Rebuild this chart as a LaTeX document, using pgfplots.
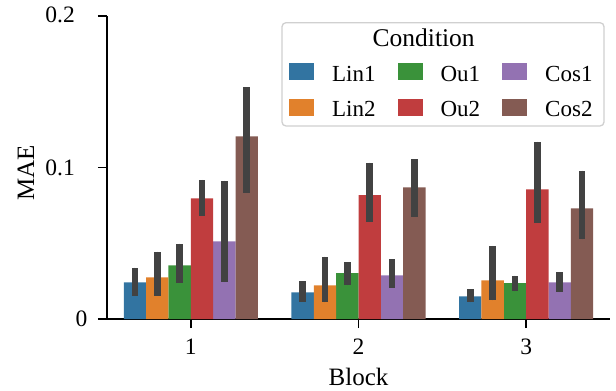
\documentclass[border=0pt]{standalone}
\usepackage{fontspec}
\setmainfont{Liberation Serif}
\usepackage{pgfplots}
\pgfplotsset{compat=1.18}
\usepackage{pgfplotstable}
\definecolor{cLinA}{HTML}{3274A1}
\definecolor{cLinB}{HTML}{E1812C}
\definecolor{cOuA}{HTML}{3A923A}
\definecolor{cOuB}{HTML}{C03D3E}
\definecolor{cCosA}{HTML}{9372B2}
\definecolor{cCosB}{HTML}{845B53}
\definecolor{errc}{HTML}{424242}
\definecolor{legc}{HTML}{D0D0D0}
% x  mean  err+  err-
\pgfplotstableread{
x y ep em
0 0.0242 0.0097 0.0090
1 0.0176 0.0073 0.0061
2 0.0150 0.0046 0.0040
}\tLinA
\pgfplotstableread{
x y ep em
0 0.0275 0.0170 0.0123
1 0.0222 0.0190 0.0112
2 0.0255 0.0227 0.0132
}\tLinB
\pgfplotstableread{
x y ep em
0 0.0354 0.0144 0.0116
1 0.0302 0.0072 0.0080
2 0.0236 0.0050 0.0053
}\tOuA
\pgfplotstableread{
x y ep em
0 0.0797 0.0121 0.0117
1 0.0817 0.0215 0.0177
2 0.0856 0.0315 0.0220
}\tOuB
\pgfplotstableread{
x y ep em
0 0.0513 0.0401 0.0269
1 0.0288 0.0106 0.0081
2 0.0242 0.0068 0.0064
}\tCosA
\pgfplotstableread{
x y ep em
0 0.1206 0.0324 0.0374
1 0.0869 0.0187 0.0193
2 0.0731 0.0249 0.0205
}\tCosB
\pgfplotsset{
  mybar/.style={ybar, bar width=0.13333, bar shift=0pt, draw=none, fill=#1,
    error bars/y dir=both, error bars/y explicit, error bars/error mark=none,
    error bars/error bar style={line width=6.5bp, color=errc}},
}
\tikzset{ylab/.style={anchor=base east, inner sep=0pt, font=\fontsize{23.5bp}{28bp}\selectfont}}
\newcommand\bars[3]{%
  \addplot[mybar=#1] table[x expr=\thisrow{x}+#2, y=y, y error plus=ep, y error minus=em] {#3};}
\begin{document}
\begin{tikzpicture}
\begin{axis}[
  at={(0,0)}, anchor=south west,
  scale only axis, width=503bp, height=303bp,
  clip=false,
  xmin=-0.5, xmax=2.5, ymin=0, ymax=0.2,
  axis lines*=left,
  axis line style={line width=1.8bp, black},
  tick align=outside, major tick length=9bp,
  tick style={line width=1.8bp, black},
  xtick={0,1,2}, xticklabels={1,2,3},
  ytick={0,0.1,0.2}, yticklabels={},
  tick label style={font=\fontsize{23.5bp}{28bp}\selectfont},
  xticklabel style={yshift=-7bp},
  xlabel={Block}, ylabel={MAE},
  xlabel style={font=\fontsize{25bp}{30bp}\selectfont, at={(axis description cs:0.5,-0.2211)}, anchor=base},
  ylabel style={font=\fontsize{25bp}{30bp}\selectfont, at={(axis description cs:-0.1614,0.4835)}, anchor=center},
  legend columns=3,
  legend image code/.code={\fill[#1] (0bp,-6bp) rectangle (25bp,10.7bp);},
  legend style={at={(axis description cs:0.3618,0.8439)}, anchor=north west,
    draw=none, fill=none, inner sep=0pt, row sep=16.7bp,
    font=\fontsize{23bp}{28bp}\selectfont,
    nodes={inner sep=0pt},
    /tikz/every odd column/.append style={column sep=18bp},
    /tikz/every even column/.append style={column sep=22bp}},
]
\draw[legc, line width=1.3bp, fill=white, rounded corners=4bp]
  (axis description cs:0.3479,0.637) rectangle (axis description cs:0.9881,0.9779);
\node[anchor=base, font=\fontsize{25.5bp}{30bp}\selectfont] at (axis description cs:0.6296,0.900) {Condition};
\node[ylab] at (axis description cs:-0.0384,-0.0254) {0};
\node[ylab] at (axis description cs:-0.0636,0.4746) {0.1};
\node[ylab] at (axis description cs:-0.0636,0.9779) {0.2};
\bars{cLinA}{-0.33333}{\tLinA}
\addlegendentry{Lin1}
\bars{cOuA}{-0.06667}{\tOuA}
\addlegendentry{Ou1}
\bars{cCosA}{0.2}{\tCosA}
\addlegendentry{Cos1}
\bars{cLinB}{-0.2}{\tLinB}
\addlegendentry{Lin2}
\bars{cOuB}{0.06667}{\tOuB}
\addlegendentry{Ou2}
\bars{cCosB}{0.33333}{\tCosB}
\addlegendentry{Cos2}
\end{axis}
\pgfresetboundingbox
\useasboundingbox (-107bp,-72bp) rectangle (509bp,319bp);
\end{tikzpicture}
\end{document}
